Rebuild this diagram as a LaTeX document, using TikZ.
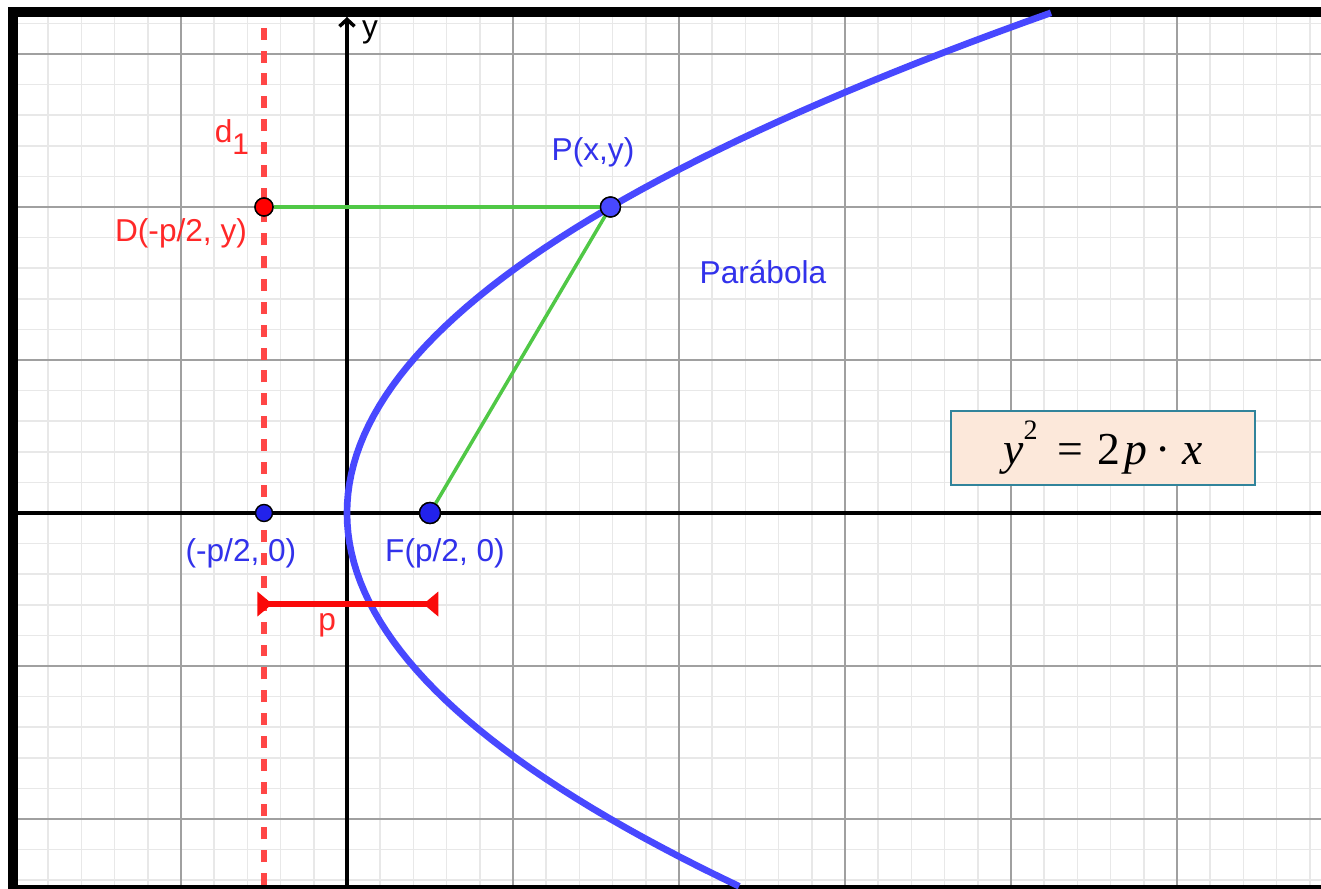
\documentclass[tikz,border=0pt]{standalone}
\usepackage{fontspec}
\setmainfont{Liberation Sans}
\newfontfamily\eqfont{Liberation Serif}
\usetikzlibrary{arrows.meta}
\usepackage{xcolor}

\definecolor{curveblue}{RGB}{72,72,255}
\definecolor{dotblue}{RGB}{34,34,235}
\definecolor{labelblue}{RGB}{50,50,235}
\definecolor{dirred}{RGB}{255,70,70}
\definecolor{labelred}{RGB}{255,40,40}
\definecolor{segred}{RGB}{250,10,10}
\definecolor{seggreen}{RGB}{80,200,70}
\definecolor{boxfill}{RGB}{252,232,218}
\definecolor{boxline}{RGB}{49,132,155}
\definecolor{minorgray}{RGB}{232,232,232}
\definecolor{majorgray}{RGB}{160,160,160}

\begin{document}
\begin{tikzpicture}[x=1.66cm, y=1.53cm, font=\fontsize{9}{11}\selectfont,
  minorline/.style={minorgray, line width=0.45pt},
  majorline/.style={majorgray, line width=0.6pt},
  axis/.style={black, line width=1pt},
  parabola/.style={curveblue, line width=1.9pt},
  directrix/.style={dirred, line width=1.9pt, dash pattern=on 3.4pt off 3.1pt},
  greenseg/.style={seggreen, line width=1pt},
  pseg/.style={segred, line width=1.5pt,
    {Triangle[reversed, length=0.15cm, width=0.24cm]}-{Triangle[reversed, length=0.15cm, width=0.24cm]}},
  dot/.style={circle, draw=black, line width=0.4pt, inner sep=0pt},
  bluedot/.style={dot, fill=dotblue},
  reddot/.style={dot, fill=red},
  textblue/.style={labelblue},
  textred/.style={labelred},
  eqbox/.style={draw=boxline, fill=boxfill, line width=0.8pt,
    minimum width=3.04cm, minimum height=0.74cm, inner sep=0pt}]

\clip (-2.0904,-2.4575) rectangle (5.8675,3.3529);
\fill[white] (-2.0904,-2.4575) rectangle (5.8675,3.3529);

% grid
\foreach \i in {-10,...,29}
  \draw[minorline] (\i/5,-2.4575) -- (\i/5,3.3529);
\foreach \j in {-12,...,16}
  \draw[minorline] (-2.0904,\j/5) -- (5.8675,\j/5);
\foreach \i in {-2,...,5}
  \draw[majorline] (\i,-2.4575) -- (\i,3.3529);
\foreach \j in {-2,...,3}
  \draw[majorline] (-2.0904,\j) -- (5.8675,\j);

% frame
\fill[white] (-2.0904,-2.4575) rectangle (-2.042,3.3529);
\fill[white] (-2.0904,3.307) rectangle (5.8675,3.3529);
\fill (-2.042,-2.4575) rectangle (-1.982,3.307);
\fill (-2.042,3.242) rectangle (5.8675,3.307);
\fill (-2.042,-2.4575) rectangle (5.8675,-2.431);

% axes
\coordinate (xl) at (-1.982,0);
\coordinate (xr) at (5.8675,0);
\coordinate (yb) at (0,-2.431);
\coordinate (yt) at (0,3.242);
\draw[axis] (xl) -- (xr);
\draw[axis, -{Straight Barb[length=0.07cm, width=0.15cm]}] (yb) -- (yt);

% directrix
\coordinate (dtop) at (-0.5,3.242);
\coordinate (dbot) at (-0.5,-2.431);
\draw[directrix] (dbot) -- (dtop);

% parabola
\draw[parabola, variable=\t, domain=-2.44:3.27, samples=90] plot ({\t*\t/2.52},\t);

% points
\node[reddot, minimum size=0.18cm] (D) at (-0.5,2) {};
\node[bluedot, fill=curveblue, minimum size=0.2cm] (P) at (1.587,2) {};
\node[bluedot, minimum size=0.21cm] (F) at (0.5,0) {};
\node[bluedot, minimum size=0.17cm] (Q) at (-0.5,0) {};

\draw[greenseg] (D) -- (P);
\draw[greenseg] (P) -- (F);
\node[reddot, minimum size=0.18cm] at (D) {};
\node[bluedot, fill=curveblue, minimum size=0.2cm] at (P) {};
\node[bluedot, minimum size=0.21cm] at (F) {};

% p segment
\coordinate (pl) at (-0.54,-0.595);
\coordinate (pr) at (0.55,-0.595);
\draw[pseg] (pl) -- (pr);

% labels
\node (ylabel) at (0.139,3.144) {y};
\node[textred] (dlabel) at (-0.693,2.458) {d\raisebox{-0.4em}{\fontsize{8.5}{9}\selectfont 1}};
\node[textred] (Dlabel) at (-1.0,1.830) {D(-p/2, y)};
\node[textblue] (Plabel) at (1.482,2.359) {P(x,y)};
\node[textblue] (parlabel) at (2.506,1.575) {Parábola};
\node[textblue] (Qlabel) at (-0.639,-0.261) {(-p/2, 0)};
\node[textblue] (Flabel) at (0.590,-0.261) {F(p/2, 0)};
\node[textred] (plabel) at (-0.12,-0.732) {p};

% equation
\node[eqbox] (eq) at (4.554,0.425)
  {\eqfont\fontsize{13}{15}\selectfont\itshape y\raisebox{0.55em}{\upshape\fontsize{8}{9}\selectfont 2}\hspace{0.2cm}\upshape=\hspace{0.14cm}2\hspace{0.04cm}\itshape p\hspace{0.08cm}\upshape·\hspace{0.12cm}\itshape x};

\end{tikzpicture}
\end{document}
